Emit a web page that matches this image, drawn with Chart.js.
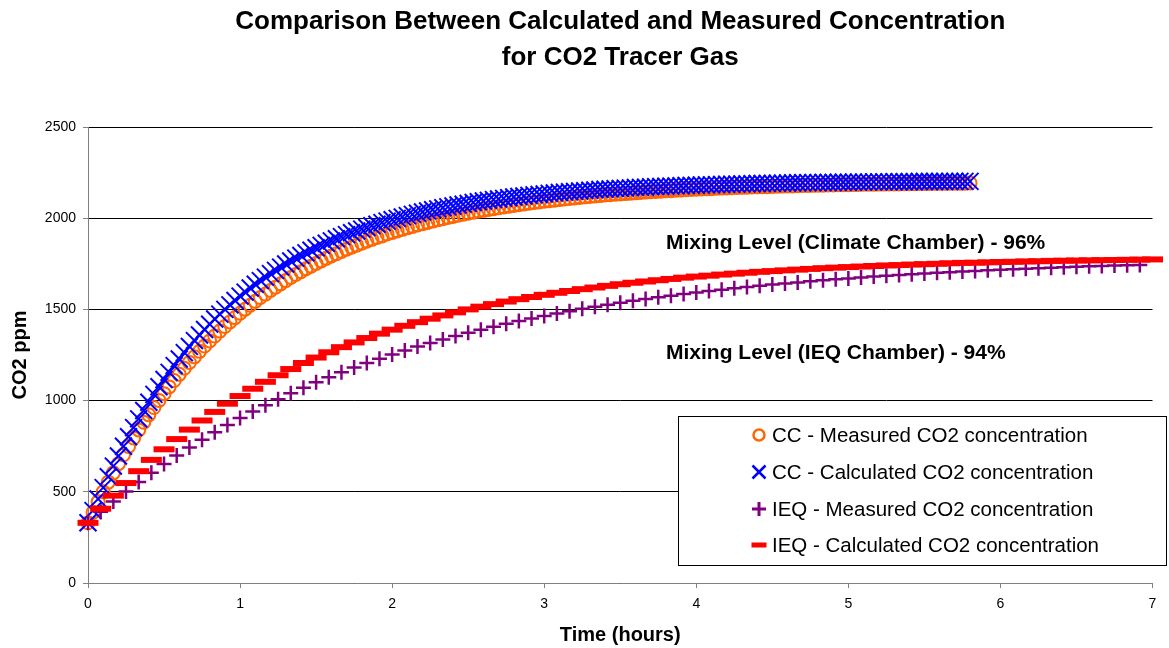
<!DOCTYPE html>
<html>
<head>
<meta charset="utf-8">
<title>CO2 Tracer Gas</title>
<script src="https://cdn.jsdelivr.net/npm/chart.js"></script>
<style>
  body { margin: 0; background: #fff; }
  #wrap { width: 1169px; height: 648px; }
</style>
</head>
<body>
<div id="wrap"><canvas id="co2Chart" width="1169" height="648"></canvas></div>
<script>
// time stamps in minutes (converted to hours for the axis)
const ccMinutes = [
  0,2,4,6,8,10,12,14,16,18,20,22,24,26,28,30,32,34,36,38,
  40,42,44,46,48,50,52,54,56,58,60,62,64,66,68,70,72,74,76,78,
  80,82,84,86,88,90,92,94,96,98,100,102,104,106,108,110,112,114,116,118,
  120,122,124,126,128,130,132,134,136,138,140,142,144,146,148,150,152,154,156,158,
  160,162,164,166,168,170,172,174,176,178,180,182,184,186,188,190,192,194,196,198,
  200,202,204,206,208,210,212,214,216,218,220,222,224,226,228,230,232,234,236,238,
  240,242,244,246,248,250,252,254,256,258,260,262,264,266,268,270,272,274,276,278,
  280,282,284,286,288,290,292,294,296,298,300,302,304,306,308,310,312,314,316,318,
  320,322,324,326,328,330,332,334,336,338,340,342,344,346,348
];
const ieqMinutes = [
  0,5,10,15,20,25,30,35,40,45,50,55,60,65,70,75,80,85,90,95,
  100,105,110,115,120,125,130,135,140,145,150,155,160,165,170,175,180,185,190,195,
  200,205,210,215,220,225,230,235,240,245,250,255,260,265,270,275,280,285,290,295,
  300,305,310,315,320,325,330,335,340,345,350,355,360,365,370,375,380,385,390,395,
  400,405,410,415,420
];

// CO2 ppm
const ccMeasured = [
  330,388,445,500,553,604,654,703,749,795,
  839,881,922,962,1001,1038,1075,1110,1144,1177,
  1209,1240,1270,1299,1327,1354,1381,1406,1431,1455,
  1479,1501,1523,1544,1565,1584,1604,1622,1640,1658,
  1675,1691,1707,1723,1737,1752,1766,1780,1793,1805,
  1818,1830,1841,1852,1863,1874,1884,1894,1903,1913,
  1922,1930,1939,1947,1955,1963,1970,1977,1984,1991,
  1997,2004,2010,2016,2022,2027,2033,2038,2043,2048,
  2052,2057,2062,2066,2070,2074,2078,2082,2086,2089,
  2093,2096,2099,2102,2105,2108,2111,2114,2117,2119,
  2122,2124,2127,2129,2131,2133,2135,2137,2139,2141,
  2143,2145,2147,2148,2150,2151,2153,2154,2156,2157,
  2159,2160,2161,2162,2164,2165,2166,2167,2168,2169,
  2170,2171,2172,2173,2173,2174,2175,2176,2177,2177,
  2178,2179,2179,2180,2181,2181,2182,2182,2183,2184,
  2184,2185,2185,2186,2186,2186,2187,2187,2188,2188,
  2188,2189,2189,2189,2190,2190,2190,2191,2191,2191,
  2192,2192,2192,2192,2193
];
const ccCalculated = [
  330,397,461,523,583,641,696,750,802,852,
  900,946,991,1034,1076,1116,1155,1192,1228,1263,
  1297,1329,1360,1390,1419,1447,1474,1500,1525,1549,
  1573,1595,1617,1638,1658,1677,1696,1714,1732,1749,
  1765,1781,1796,1810,1824,1838,1851,1863,1876,1887,
  1899,1910,1920,1930,1940,1949,1959,1967,1976,1984,
  1992,1999,2007,2014,2021,2027,2034,2040,2046,2051,
  2057,2062,2067,2072,2077,2081,2086,2090,2094,2098,
  2102,2105,2109,2112,2116,2119,2122,2125,2128,2130,
  2133,2136,2138,2141,2143,2145,2147,2149,2151,2153,
  2155,2157,2159,2160,2162,2163,2165,2166,2168,2169,
  2170,2172,2173,2174,2175,2176,2177,2178,2179,2180,
  2181,2182,2183,2183,2184,2185,2186,2186,2187,2188,
  2188,2189,2190,2190,2191,2191,2192,2192,2193,2193,
  2194,2194,2195,2195,2195,2196,2196,2196,2197,2197,
  2197,2198,2198,2198,2198,2199,2199,2199,2199,2200,
  2200,2200,2200,2200,2201,2201,2201,2201,2201,2201,
  2202,2202,2202,2202,2202
];
const ieqMeasured = [
  330,390,447,501,554,604,652,699,743,786,
  827,866,904,940,975,1008,1040,1070,1100,1128,
  1155,1181,1206,1230,1253,1275,1296,1316,1335,1354,
  1372,1389,1405,1421,1436,1450,1464,1478,1490,1503,
  1514,1526,1536,1547,1557,1566,1575,1584,1593,1601,
  1608,1616,1623,1630,1636,1642,1648,1654,1660,1665,
  1670,1675,1680,1684,1689,1693,1697,1701,1704,1708,
  1711,1714,1717,1720,1723,1726,1729,1731,1734,1736,
  1738,1740,1742,1744
];
const ieqCalculated = [
  330,407,479,548,613,675,733,789,841,891,
  938,983,1025,1065,1103,1139,1173,1206,1236,1265,
  1293,1319,1343,1367,1389,1410,1430,1449,1467,1484,
  1500,1515,1529,1543,1556,1568,1580,1591,1601,1611,
  1620,1629,1638,1646,1653,1660,1667,1674,1680,1685,
  1691,1696,1701,1706,1710,1714,1718,1722,1726,1729,
  1732,1735,1738,1741,1743,1746,1748,1750,1753,1755,
  1756,1758,1760,1761,1763,1764,1766,1767,1768,1769,
  1770,1771,1772,1773,1774
];

const seriesNames = [
  'CC - Measured CO2 concentration',
  'CC - Calculated CO2 concentration',
  'IEQ - Measured CO2 concentration',
  'IEQ - Calculated CO2 concentration'
];
const titleLines = ['Comparison Between Calculated and Measured Concentration', 'for CO2 Tracer Gas'];
const notes = ['Mixing Level (Climate Chamber) - 96%', 'Mixing Level (IEQ Chamber) - 94%'];

function toPoints(minutes, values) {
    return values.map((v, i) => ({ x: minutes[i] / 60, y: v }));
}

const ORANGE = '#ff6600', BLUE = '#0000ff', PURPLE = '#800080', RED = '#ff0000';
const FONT = '"Liberation Sans", Arial, sans-serif';

// title, notes and boxed legend drawn straight on the canvas
const decorPlugin = {
    id: 'decor',
    afterDraw(chart) {
        const ctx = chart.ctx;
        const area = chart.chartArea;
        const cx = (area.left + area.right) / 2;
        ctx.save();
        ctx.fillStyle = '#000';
        ctx.textAlign = 'center';
        ctx.textBaseline = 'alphabetic';
        ctx.font = 'bold 26px ' + FONT;
        ctx.fillText(titleLines[0], cx, 29);
        ctx.fillText(titleLines[1], cx, 65);

        ctx.textAlign = 'left';
        ctx.font = 'bold 21px ' + FONT;
        ctx.fillText(notes[0], 666, 249);
        ctx.fillText(notes[1], 666, 359);

        // legend box
        ctx.fillStyle = '#fff';
        ctx.fillRect(678, 416, 488, 149);
        ctx.strokeStyle = '#000';
        ctx.lineWidth = 1;
        ctx.strokeRect(678.5, 416.5, 488, 149);

        const rows = [435, 472, 509, 545];
        const mx = 759;
        // orange ring
        ctx.strokeStyle = ORANGE; ctx.lineWidth = 2.5;
        ctx.beginPath(); ctx.arc(mx, rows[0], 5.5, 0, Math.PI * 2); ctx.stroke();
        // blue X
        ctx.strokeStyle = BLUE; ctx.lineWidth = 2.5;
        ctx.beginPath();
        ctx.moveTo(mx - 6.5, rows[1] - 6.5); ctx.lineTo(mx + 6.5, rows[1] + 6.5);
        ctx.moveTo(mx + 6.5, rows[1] - 6.5); ctx.lineTo(mx - 6.5, rows[1] + 6.5);
        ctx.stroke();
        // purple +
        ctx.strokeStyle = PURPLE; ctx.lineWidth = 3;
        ctx.beginPath();
        ctx.moveTo(mx - 7, rows[2]); ctx.lineTo(mx + 7, rows[2]);
        ctx.moveTo(mx, rows[2] - 7); ctx.lineTo(mx, rows[2] + 7);
        ctx.stroke();
        // red dash
        ctx.fillStyle = RED;
        ctx.fillRect(mx - 7.5, rows[3] - 2.5, 15, 5);

        ctx.fillStyle = '#000';
        ctx.font = '20.5px ' + FONT;
        ctx.textBaseline = 'middle';
        seriesNames.forEach((name, i) => ctx.fillText(name, 772, rows[i] + 1));
        ctx.restore();
    }
};

const chart = new Chart(document.getElementById('co2Chart'), {
    type: 'scatter',
    data: {
        datasets: [{
            label: seriesNames[0],
            data: toPoints(ccMinutes, ccMeasured),
            pointStyle: 'circle',
            pointRadius: 6.5,
            borderColor: ORANGE,
            backgroundColor: 'rgba(0,0,0,0)',
            pointBorderWidth: 2,
            order: 4,
            clip: false
        }, {
            label: seriesNames[1],
            data: toPoints(ccMinutes, ccCalculated),
            pointStyle: 'crossRot',
            pointRadius: 12,
            borderColor: BLUE,
            backgroundColor: BLUE,
            pointBorderWidth: 2,
            order: 3,
            clip: false
        }, {
            label: seriesNames[2],
            data: toPoints(ieqMinutes, ieqMeasured),
            pointStyle: 'cross',
            pointRadius: 7.5,
            borderColor: PURPLE,
            backgroundColor: PURPLE,
            pointBorderWidth: 2.5,
            order: 2,
            clip: false
        }, {
            label: seriesNames[3],
            data: toPoints(ieqMinutes, ieqCalculated),
            pointStyle: 'line',
            pointRadius: 10.5,
            borderColor: RED,
            backgroundColor: RED,
            pointBorderWidth: 6,
            order: 1,
            clip: false
        }]
    },
    options: {
        responsive: false,
        animation: false,
        devicePixelRatio: 1,
        layout: { padding: { top: 127, right: 15, left: 0, bottom: 0 } },
        plugins: {
            legend: { display: false },
            tooltip: { enabled: false }
        },
        scales: {
            x: {
                type: 'linear',
                min: 0,
                max: 7,
                ticks: {
                    stepSize: 1,
                    color: '#000',
                    padding: 8,
                    callback: v => String(v),
                    font: { family: FONT, size: 14 }
                },
                grid: { drawOnChartArea: false, tickLength: 5, tickColor: '#808080' },
                border: { color: '#808080', width: 1 },
                title: {
                    display: true,
                    text: 'Time (hours)',
                    color: '#000',
                    padding: { top: 0, bottom: 1 },
                    font: { family: FONT, size: 20, weight: 'bold' }
                },
                afterFit(scale) { scale.height = 65; }
            },
            y: {
                min: 0,
                max: 2500,
                ticks: {
                    stepSize: 500,
                    color: '#000',
                    padding: 7,
                    callback: v => String(v),
                    font: { family: FONT, size: 14 }
                },
                grid: { color: '#000', lineWidth: 1, tickLength: 5, tickColor: '#808080' },
                border: { color: '#808080', width: 1 },
                title: {
                    display: true,
                    text: 'CO2 ppm',
                    color: '#000',
                    padding: { top: 8, bottom: 0 },
                    font: { family: FONT, size: 20, weight: 'bold' }
                },
                afterFit(scale) { scale.width = 88; }
            }
        }
    },
    plugins: [decorPlugin]
});
</script>
</body>
</html>
